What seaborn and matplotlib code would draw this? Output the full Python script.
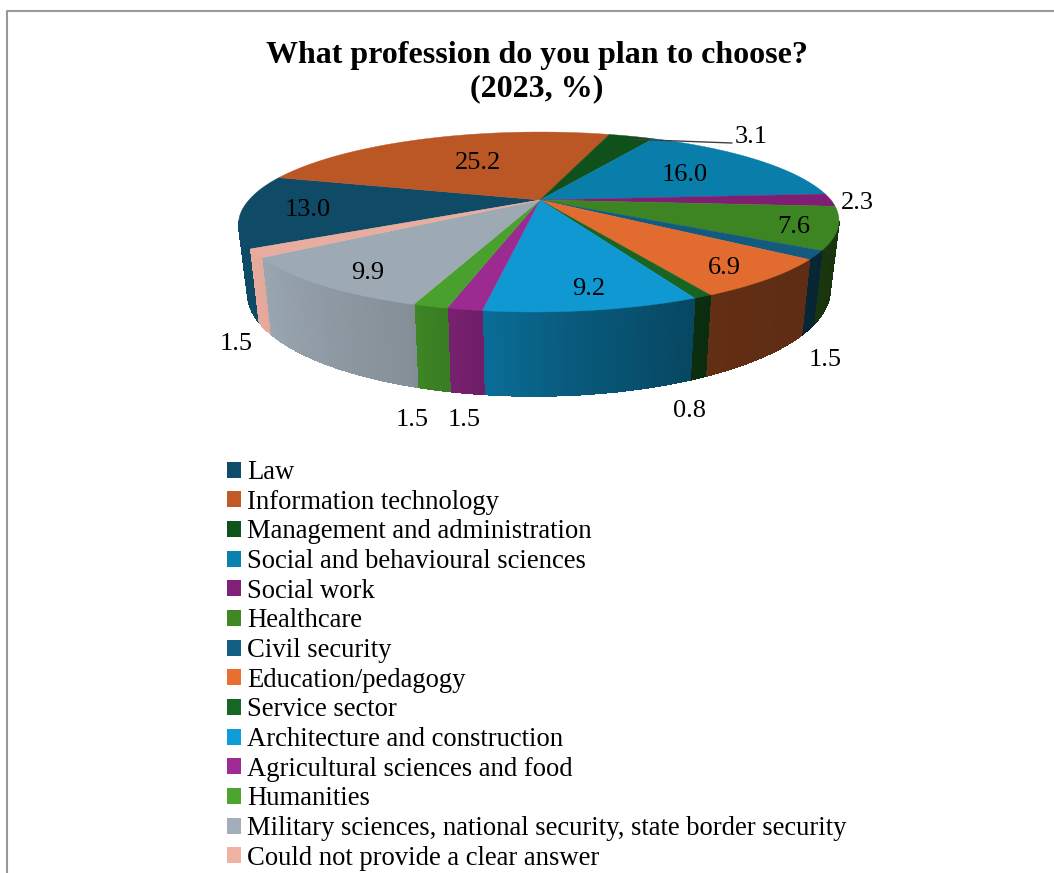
"""3D style pie chart of planned professions, 2023."""

import matplotlib

matplotlib.use("Agg")

import matplotlib.pyplot as plt
import numpy as np
import seaborn as sns
from matplotlib.collections import PolyCollection
from matplotlib.patches import Patch

TITLE = "What profession do you plan to choose?\n(2023, %)"
CATEGORIES = [
    "Law",
    "Information technology",
    "Management and administration",
    "Social and behavioural sciences",
    "Social work",
    "Healthcare",
    "Civil security",
    "Education/pedagogy",
    "Service sector",
    "Architecture and construction",
    "Agricultural sciences and food",
    "Humanities",
    "Military sciences, national security, state border security",
    "Could not provide a clear answer",
]
VALUES = [13.0, 25.2, 3.1, 16.0, 2.3, 7.6, 1.5, 6.9, 0.8, 9.2, 1.5, 1.5, 9.9, 1.5]
COLORS = [
    "#0F4C69", "#C05A26", "#11521B", "#0A82B0", "#841F78", "#3F8824", "#135E82",
    "#E96F30", "#186724", "#0F9DD8", "#A02B95", "#4CA52E", "#A2AFBA", "#F0B2A4",
]

# layout, all in reference pixels
WIDTH, HEIGHT = 1054, 873
CX, CY = 540, 200
RX, RY, PERSP = 291, 84.6, 0.2445
SHEAR = 0.055
START_ANGLE = 239.6
DEPTH_SHIFT, DEPTH_Y, DEPTH_X = 66, 1.16, 0.97
LABEL_POS = [
    (308, 207), (478, 160), (751, 134), (685, 172), (857, 200), (794, 224), (825, 357),
    (724, 265), (689, 408), (589, 286), (464, 417), (412, 417), (368, 270), (236, 341),
]
LEADER_END = (732, 143)

# how dark the rim gets going round the front of the pie
SHADE_ANGLES = [100, 150, 175, 190, 200, 235, 260]
SHADE_LEVELS = [0.38, 0.42, 0.58, 0.72, 0.82, 0.95, 1.0]


def project(theta):
    """Pie angle (degrees clockwise from the back) to offsets on the top face."""
    rad = np.radians(theta)
    u, v = np.sin(rad), -np.cos(rad)
    scale = 1 / (1 - PERSP * v)
    dx, dy = RX * u * scale, RY * v * scale
    # the front of the reference pie leans a little to the left
    return dx - SHEAR * np.clip(dy, 0, None), dy


def top_xy(theta):
    dx, dy = project(theta)
    return CX + dx, CY + dy


def bottom_xy(theta):
    dx, dy = project(theta)
    return CX + DEPTH_X * dx, CY + DEPTH_SHIFT + DEPTH_Y * dy


def draw_pie(ax, palette):
    edges = START_ANGLE + np.concatenate([[0], np.cumsum(VALUES)]) * 3.6

    # rim first, as thin strips so it can carry the shading
    for i, color in enumerate(palette):
        lo, hi = edges[i] % 360, (edges[i] % 360) + VALUES[i] * 3.6
        lo, hi = max(lo, 104), min(hi, 256)
        if hi <= lo:
            continue
        steps = np.linspace(lo, hi, int(hi - lo) * 2 + 2)
        strips, shades = [], []
        for a, b in zip(steps[:-1], steps[1:]):
            strips.append([top_xy(a), top_xy(b), bottom_xy(b), bottom_xy(a)])
            level = np.interp((a + b) / 2, SHADE_ANGLES, SHADE_LEVELS)
            shades.append(np.array(color) * level)
        ax.add_collection(PolyCollection(strips, facecolors=shades, edgecolors=shades, linewidths=0.6, antialiaseds=False))

    for i, color in enumerate(palette):
        arc = np.linspace(edges[i], edges[i + 1], max(int(VALUES[i] * 3.6) * 2, 6))
        xs, ys = top_xy(arc)
        top = np.array(color) * 0.97
        ax.fill(np.r_[CX, xs], np.r_[CY, ys], color=top, linewidth=0.3)

    return edges


def main():
    sns.set_theme(style="white")
    plt.rcParams["font.family"] = ["Liberation Serif", "DejaVu Serif"]
    palette = sns.color_palette(COLORS)

    fig = plt.figure(figsize=(WIDTH / 100, HEIGHT / 100), dpi=100)
    ax = fig.add_axes([0, 0, 1, 1])
    ax.set_xlim(0, WIDTH)
    ax.set_ylim(HEIGHT, 0)
    ax.axis("off")

    # chart frame, the right and bottom sides fall outside the crop
    ax.plot([7, 7, WIDTH], [HEIGHT, 10.7, 10.7], color="#999999", linewidth=1.5)

    ax.text(537, 72, TITLE, fontsize=23.05, fontweight="bold", ha="center", va="center", linespacing=1.16, color="black")

    edges = draw_pie(ax, palette)

    # leader line for the thin management slice
    start = top_xy((edges[2] + edges[3]) / 2)
    ax.plot([start[0], LEADER_END[0]], [start[1] + 3, LEADER_END[1]], color="#404040", linewidth=1)

    for value, (x, y) in zip(VALUES, LABEL_POS):
        ax.text(x, y + 3, f"{value:.1f}", fontsize=19, ha="center", va="center", color="black")

    handles = [Patch(facecolor=c, edgecolor="none", label=n) for c, n in zip(palette, CATEGORIES)]
    ax.legend(
        handles=handles,
        loc="upper left",
        bbox_to_anchor=(227, 460),
        bbox_transform=ax.transData,
        frameon=False,
        fontsize=19.2,
        labelcolor="black",
        borderpad=0,
        borderaxespad=0,
        handlelength=0.54,
        handleheight=0.54,
        handletextpad=0.22,
        labelspacing=0.175,
    )

    fig.savefig("out.png", dpi=100)


if __name__ == "__main__":
    main()
